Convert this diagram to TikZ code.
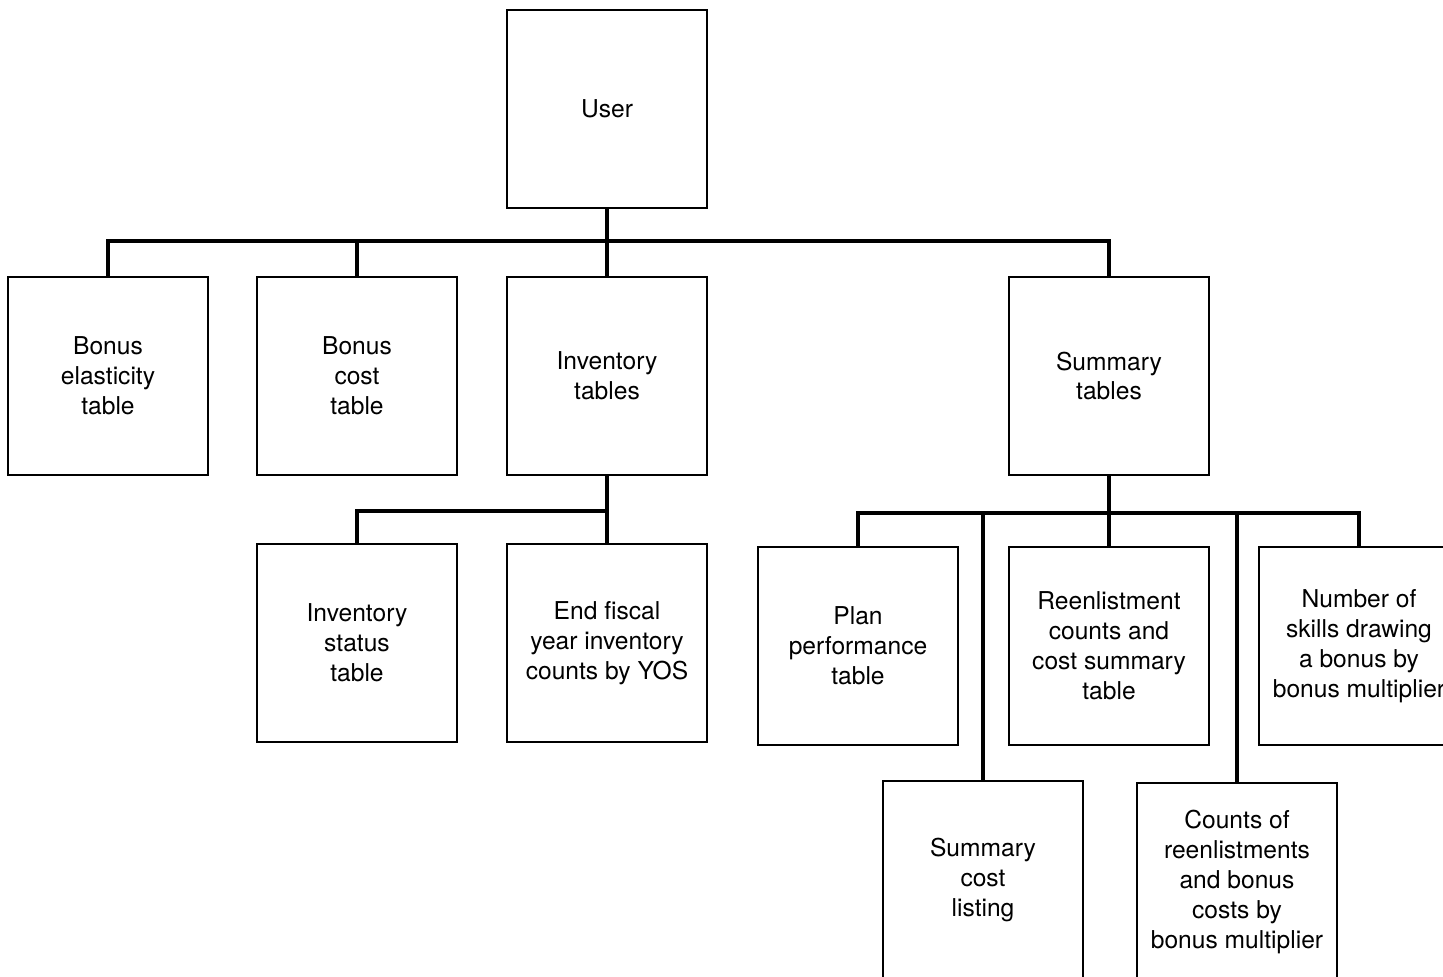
\documentclass[tikz,border=0pt]{standalone}
\usepackage{fontspec}
\setmainfont{TeX Gyre Heros}
\usepackage{tikz}
\usetikzlibrary{positioning}

\begin{document}
\begin{tikzpicture}[on grid,
    box/.style={draw,line width=1.2pt,minimum width=4cm,minimum height=3.96cm,
                align=center,font=\fontsize{14}{17}\selectfont},
    link/.style={line width=1.8pt}]
   \useasboundingbox (0,0) rectangle (28.86,-19.54);
   \node[box] (user) at (12.14,-2.18) {User};
   \node[box] (inv) [below=5.34cm of user] {Inventory\\tables};
   \node[box] (boncost) [left=5cm of inv] {Bonus\\cost\\table};
   \node[box] (bonel) [left=4.98cm of boncost] {Bonus\\elasticity\\table};
   \node[box] (summ) [right=10.04cm of inv] {Summary\\tables};
   \node[box] (endfy) [below=5.34cm of inv] {End fiscal\\year inventory\\counts by YOS};
   \node[box] (invstat) [left=5cm of endfy] {Inventory\\status\\table};
   \node[box] (reen) [below=5.4cm of summ] {Reenlistment\\counts and\\cost summary\\table};
   \node[box] (plan) [left=5.02cm of reen] {Plan\\performance\\table};
   \node[box] (nskills) [right=5cm of reen] {Number of\\skills drawing\\a bonus by\\bonus multiplier};
   \node[box] (sumcost) [below right=4.68cm and 2.5cm of plan] {Summary\\cost\\listing};
   \node[box] (counts) [below right=4.72cm and 2.56cm of reen] {Counts of\\reenlistments\\and bonus\\costs by\\bonus multiplier};

   \coordinate (ub) at ([yshift=-0.64cm]user.south);
   \coordinate (ib) at ([yshift=-0.7cm]inv.south);
   \coordinate (sb) at ([yshift=-0.74cm]summ.south);

   \draw[link] (bonel.north) |- (ub) -| (summ.north);
   \draw[link] (user.south) -- (inv.north);
   \draw[link] (boncost.north) -- (boncost.north |- ub);

   \draw[link] (invstat.north) |- (ib);
   \draw[link] (inv.south) -- (endfy.north);

   \draw[link] (plan.north) |- (sb) -| (nskills.north);
   \draw[link] (summ.south) -- (reen.north);
   \draw[link] (sumcost.north) -- (sumcost.north |- sb);
   \draw[link] (counts.north) -- (counts.north |- sb);
\end{tikzpicture}
\end{document}
